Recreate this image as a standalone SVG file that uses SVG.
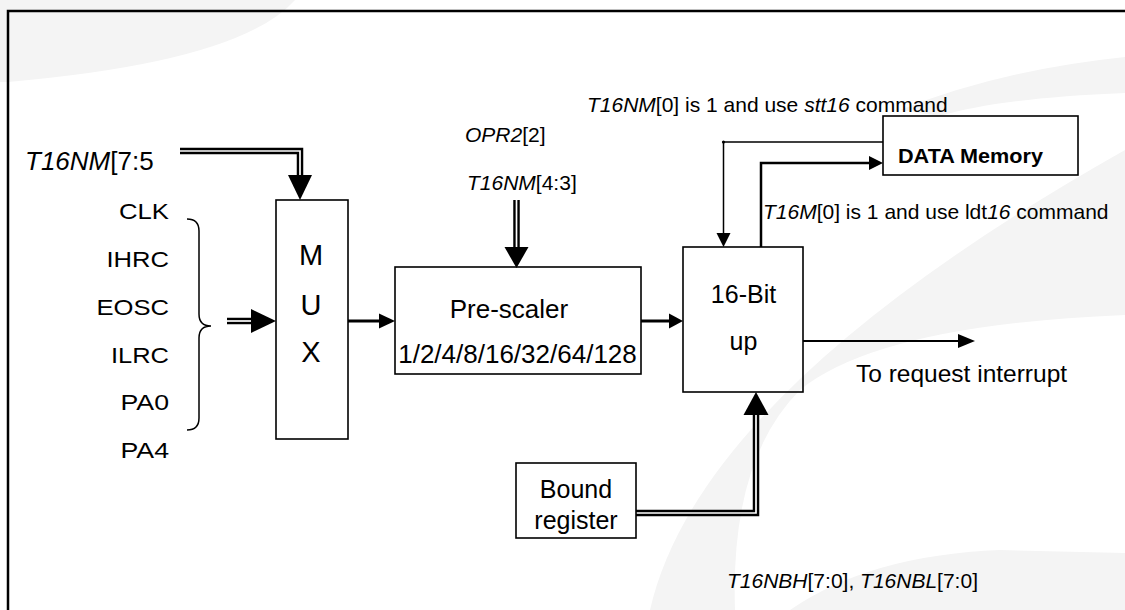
<svg xmlns="http://www.w3.org/2000/svg" width="1125" height="610" viewBox="0 0 1125 610">
<style>
.t{font-family:"Liberation Sans",Arial,sans-serif;fill:#000}
.box{fill:none;stroke:#000;stroke-width:1.6}
.thin{fill:none;stroke:#000;stroke-width:1.5}
.thick{fill:none;stroke:#000;stroke-width:3}
.dblo{fill:none;stroke:#000;stroke-width:6.5;stroke-linejoin:miter}
.dbli{fill:none;stroke:#fff;stroke-width:1.7;stroke-linejoin:miter}
.wm{fill:#f4f4f4;stroke:none}
</style>
<rect width="1125" height="610" fill="#fff"/>
<g id="watermark">
<path class="wm" d="M0,0 L295,0 Q240,62 8,82 L0,82 Z"/>
<path class="wm" d="M650,610 Q700,390 1125,150 L1125,315 Q880,325 800,390 Q730,460 735,610 Z"/>
<path class="wm" d="M790,610 Q870,555 1000,550 L1125,553 L1125,610 Z"/>
<path class="wm" d="M900,110 Q1000,70 1125,57 L1125,93 Q1000,98 940,116 Z"/>
</g>
<rect x="8" y="11" width="1130" height="610" fill="none" stroke="#000" stroke-width="2.5"/>

<g id="connectors">
<path class="dblo" d="M180,151 H300 V176"/>
<path class="dbli" d="M180,151 H300 V176"/>
<polygon points="288,175 312,175 300,200"/>
<path class="dblo" d="M227,321 H252"/>
<path class="dbli" d="M227,321 H252"/>
<polygon points="251,309 251,333 276,321"/>
<path class="thin" d="M187,219 Q199,219 199,231 V314 Q199,326 211,326 Q199,326 199,338 V418 Q199,430 187,430"/>
<path class="thick" d="M348,321 H381"/>
<polygon points="379,313.5 379,328.5 395,321"/>
<path class="dblo" d="M516.5,200 V248"/>
<path class="dbli" d="M516.5,200 V248"/>
<polygon points="504.5,247 528.5,247 516.5,268"/>
<path class="thick" d="M641,321 H671"/>
<polygon points="669,313.5 669,328.5 683,321"/>
<path class="thin" d="M883,142 H723.5 V235"/>
<circle cx="723.5" cy="142" r="1.6"/>
<polygon points="716.5,233 730.5,233 723.5,247"/>
<path fill="none" stroke="#000" stroke-width="2.5" d="M761,247 V163 H871"/>
<polygon points="869,156 869,170 883,163"/>
<path fill="none" stroke="#000" stroke-width="2" d="M803,341 H960"/>
<polygon points="958,334 958,348 975,341"/>
<path class="dblo" d="M636,513 H756 V414"/>
<path class="dbli" d="M636,513 H756 V414"/>
<polygon points="743.5,415 768.5,415 756,392"/>
</g>

<g id="n-mux">
<rect class="box" x="276" y="200" width="72" height="239"/>
<text class="t" x="311" y="265" font-size="29" text-anchor="middle">M</text>
<text class="t" x="311" y="315" font-size="29" text-anchor="middle">U</text>
<text class="t" x="311" y="362" font-size="29" text-anchor="middle">X</text>
</g>
<g id="n-prescaler">
<rect class="box" x="395" y="267" width="246" height="107"/>
<text class="t" x="509" y="318" font-size="26" text-anchor="middle">Pre-scaler</text>
<text class="t" x="517.5" y="363" font-size="26" text-anchor="middle">1/2/4/8/16/32/64/128</text>
</g>
<g id="n-counter">
<rect class="box" x="683" y="247" width="120" height="145"/>
<text class="t" x="743.5" y="303" font-size="25" text-anchor="middle">16-Bit</text>
<text class="t" x="743.5" y="350" font-size="25" text-anchor="middle">up</text>
</g>
<g id="n-datamem">
<rect class="box" x="883" y="116" width="195" height="59"/>
<text class="t" x="898" y="163" font-size="20" font-weight="bold" textLength="145" lengthAdjust="spacingAndGlyphs">DATA Memory</text>
</g>
<g id="n-bound">
<rect class="box" x="516" y="463" width="120" height="75"/>
<text class="t" x="576" y="498" font-size="25" text-anchor="middle">Bound</text>
<text class="t" x="576" y="529" font-size="25" text-anchor="middle">register</text>
</g>
<g id="labels">
<text class="t" x="25" y="170" font-size="26"><tspan font-style="italic">T16NM</tspan>[7:5</text>
<text class="t" x="169" y="219" font-size="22" text-anchor="end" textLength="50" lengthAdjust="spacingAndGlyphs">CLK</text>
<text class="t" x="169" y="267" font-size="22" text-anchor="end" textLength="62.5" lengthAdjust="spacingAndGlyphs">IHRC</text>
<text class="t" x="169" y="315" font-size="22" text-anchor="end" textLength="72.5" lengthAdjust="spacingAndGlyphs">EOSC</text>
<text class="t" x="169" y="363" font-size="22" text-anchor="end" textLength="58" lengthAdjust="spacingAndGlyphs">ILRC</text>
<text class="t" x="169" y="410" font-size="22" text-anchor="end" textLength="48.5" lengthAdjust="spacingAndGlyphs">PA0</text>
<text class="t" x="169" y="458" font-size="22" text-anchor="end" textLength="48.5" lengthAdjust="spacingAndGlyphs">PA4</text>
<text class="t" x="465" y="142" font-size="21"><tspan font-style="italic">OPR2</tspan>[2]</text>
<text class="t" x="467" y="190" font-size="21"><tspan font-style="italic">T16NM</tspan>[4:3]</text>
<text class="t" x="587" y="112" font-size="21"><tspan font-style="italic">T16NM</tspan>[0] is 1 and use <tspan font-style="italic">stt16</tspan> command</text>
<text class="t" x="763" y="219" font-size="21"><tspan font-style="italic">T16M</tspan>[0] is 1 and use ldt<tspan font-style="italic">16</tspan> command</text>
<text class="t" x="856" y="382" font-size="24.5">To request interrupt</text>
<text class="t" x="727" y="588" font-size="21"><tspan font-style="italic">T16NBH</tspan>[7:0], <tspan font-style="italic">T16NBL</tspan>[7:0]</text>
</g>
</svg>
